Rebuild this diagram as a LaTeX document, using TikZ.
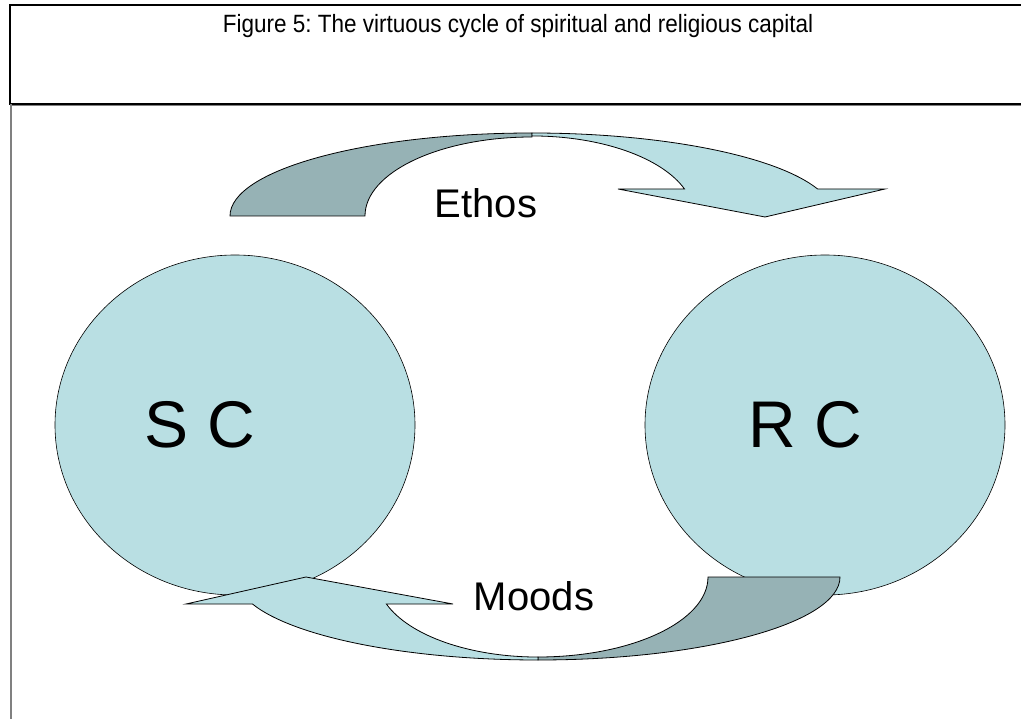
\documentclass[tikz,border=0pt]{standalone}
\usepackage{fontspec}
\setmainfont{Liberation Sans}
\usetikzlibrary{shapes.geometric}
\definecolor{lightfill}{RGB}{185,223,227}
\definecolor{darkfill}{RGB}{150,178,181}
\frenchspacing
\tikzset{
  ribbon/.style={draw=black, line width=0.8pt, line join=miter},
  bubble/.style={ellipse, draw=black, line width=0.6pt, fill=lightfill, inner sep=0pt},
  label/.style={anchor=base, inner sep=0pt, text=black},
}
\begin{document}
\begin{tikzpicture}[x=1pt,y=1pt]
\useasboundingbox (0,0) rectangle (1021,-719);
% frame
\draw[black, line width=2pt] (1030,-5.5) -- (9.5,-5.5) -- (9.5,-104) -- (1030,-104);
\draw[gray, line width=1pt] (11,-106) -- (1030,-106);
\draw[gray, line width=1.6pt] (11,-104) -- (11,-719);
\node[label, font=\fontsize{25}{28}\selectfont, xscale=0.9] (title) at (518,-33) {Figure 5: The virtuous cycle of spiritual and religious capital};

% circles
\node[bubble, minimum width=360pt, minimum height=340pt] (scshape) at (235,-425) {};
\node[bubble, minimum width=360pt, minimum height=340pt] (rcshape) at (825,-425) {};
\node[label, font=\fontsize{66}{70}\selectfont] (sc) at (200,-448) {S C};
\node[label, font=\fontsize{66}{70}\selectfont] (rc) at (805,-448) {R C};

% top arrow (Ethos)
\draw[ribbon, fill=darkfill] (230,-216) arc[start angle=180, end angle=90, x radius=302, y radius=83]
  -- (532,-137) arc[start angle=90, end angle=180, x radius=167, y radius=79] -- cycle;
\draw[ribbon, fill=lightfill] (532,-133) arc[start angle=90, end angle=19, x radius=302, y radius=83]
  -- (885,-189) -- (765,-217) -- (618,-189) -- (684.5,-189)
  arc[start angle=19.7, end angle=90, x radius=162, y radius=80] -- cycle;
\node[label, font=\fontsize{40}{44}\selectfont] (ethos) at (486,-218) {Ethos};

% bottom arrow (Moods)
\draw[ribbon, fill=darkfill] (840,-577) arc[start angle=0, end angle=-90, x radius=302, y radius=83]
  -- (538,-657) arc[start angle=-90, end angle=0, x radius=170, y radius=80] -- cycle;
\draw[ribbon, fill=lightfill] (538,-660) arc[start angle=270, end angle=199, x radius=302, y radius=83]
  -- (186,-604) -- (306,-577) -- (453,-604) -- (386.4,-604)
  arc[start angle=199.7, end angle=270, x radius=161, y radius=80] -- cycle;
\node[label, font=\fontsize{40}{44}\selectfont] (moods) at (534,-610) {Moods};
\end{tikzpicture}
\end{document}
